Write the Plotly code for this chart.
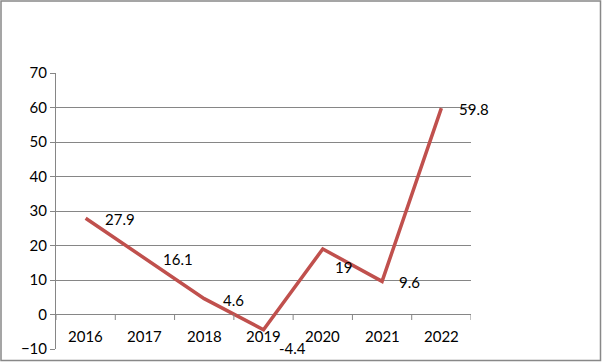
import plotly.graph_objects as go

years = ["2016", "2017", "2018", "2019", "2020", "2021", "2022"]
values = [27.9, 16.1, 4.6, -4.4, 19, 9.6, 59.8]
y_ticks = [-10, 0, 10, 20, 30, 40, 50, 60, 70]

# label offsets in pixels (style only)
label_dx = [17, 16, 17, 13, 10, 15, 16]
label_dy = [-1, 0, -1, -18, -18, -1, -1]

LINE = "#C0504D"
GRID = "#868686"
FONT = "Lato, Open Sans, sans-serif"
FS = 15

fig = go.Figure()
fig.add_trace(go.Scatter(
    x=years, y=values, mode="lines",
    line=dict(color=LINE, width=3.5),
    hoverinfo="skip", showlegend=False,
))

annotations = []
for i, (yr, v) in enumerate(zip(years, values)):
    annotations.append(dict(
        x=i, y=v, xref="x", yref="y", text=str(v), showarrow=False,
        xanchor="left", xshift=label_dx[i], yshift=label_dy[i],
        font=dict(family=FONT, size=FS, color="black"),
    ))
    annotations.append(dict(
        x=i, y=0, xref="x", yref="y", text=yr, showarrow=False,
        yshift=-21, font=dict(family=FONT, size=FS, color="black"),
    ))

shapes = []
n = len(years)
for k in range(n + 1):
    shapes.append(dict(
        type="line", xref="x", yref="paper", x0=k - 0.5, x1=k - 0.5,
        y0=(349 - 314) / 276, y1=(349 - 320) / 276,
        line=dict(color=GRID, width=1),
    ))
shapes.append(dict(
    type="rect", xref="paper", yref="paper",
    x0=(1 - 56) / 415, x1=(600.5 - 56) / 415,
    y0=(349 - 360.5) / 276, y1=(349 - 1) / 276,
    line=dict(color="#888888", width=1.5), fillcolor="rgba(0,0,0,0)", layer="below",
))

fig.update_layout(
    template="none",
    width=602, height=362, autosize=False,
    margin=dict(l=56, r=131, t=73, b=13, pad=0),
    paper_bgcolor="white", plot_bgcolor="white",
    font=dict(family=FONT, size=FS, color="black"),
    xaxis=dict(
        type="category", range=[-0.5, n - 0.5], showticklabels=False,
        showgrid=False, zeroline=False, showline=False, ticks="", automargin=False,
    ),
    yaxis=dict(
        range=[-10, 70], tickvals=y_ticks, ticks="outside", ticklen=5,
        tickcolor=GRID, showgrid=True, gridcolor=GRID, gridwidth=1,
        zeroline=False, showline=True, linecolor=GRID, linewidth=1, automargin=False,
        tickfont=dict(family=FONT, size=FS, color="black"),
    ),
    annotations=annotations, shapes=shapes,
)

fig.write_html(
    "out.html",
    config={"displayModeBar": False, "responsive": False},
    post_script="document.body.style.margin='0';",
)
